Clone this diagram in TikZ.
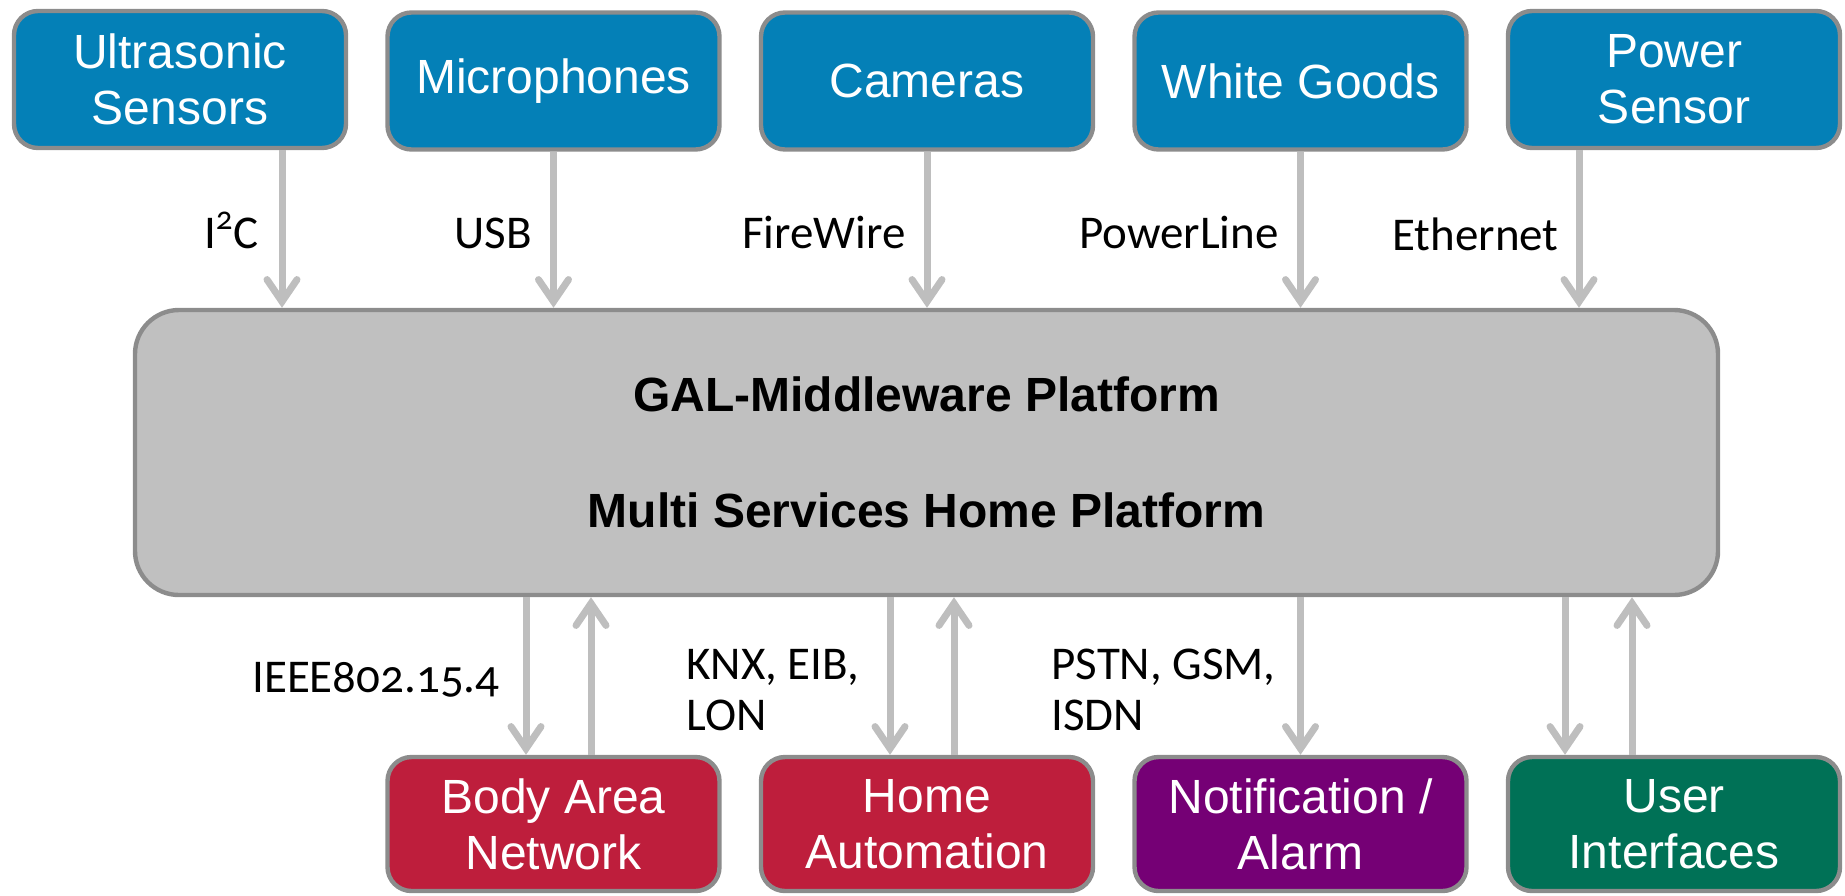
\documentclass[tikz,border=0pt]{standalone}
\usepackage{fontspec}
\setmainfont{Liberation Sans}
\newfontfamily\labelfont[Numbers=OldStyle]{Carlito}
\usetikzlibrary{arrows.meta}

\definecolor{devblue}{RGB}{4,128,183}
\definecolor{devred}{RGB}{190,30,60}
\definecolor{devpurple}{RGB}{117,0,117}
\definecolor{devgreen}{RGB}{0,113,86}
\definecolor{boxgray}{RGB}{140,140,140}
\definecolor{galgray}{RGB}{192,192,192}
\definecolor{linkgray}{RGB}{190,190,190}

\begin{document}
\begin{tikzpicture}[x=0.5pt,y=-0.5pt,
  dev/.style={draw=boxgray,line width=2.2pt,rounded corners=12pt,
    minimum width=166pt,minimum height=68.5pt,inner sep=0pt,
    text=white,align=center,font=\fontsize{24}{28}\selectfont},
  link/.style={draw=linkgray,line width=3.5pt,
    -{Straight Barb[length=11pt,width=15pt,line cap=round]}},
  lbl/.style={font=\labelfont\fontsize{23.5}{25.5}\selectfont,inner sep=0pt}]
\useasboundingbox (0,0) rectangle (1845,895);

% devices on top
\node[dev,fill=devblue] (us)  at (180,79.5)    {Ultrasonic\\Sensors};
\node[dev,fill=devblue] (mic) at (553.5,81)    {Microphones};
\node[dev,fill=devblue] (cam) at (927,81)      {Cameras};
\node[dev,fill=devblue] (wg)  at (1300.5,81)   {White Goods};
\node[dev,fill=devblue] (ps)  at (1674,79.5)   {Power\\Sensor};

% middleware
\node[draw=boxgray,fill=galgray,line width=2.2pt,rounded corners=22pt,
  minimum width=791.5pt,minimum height=142.5pt,align=center,
  font=\bfseries\fontsize{24}{28}\selectfont] (gal) at (926.5,452.5)
  {GAL-Middleware Platform\\[30pt]Multi Services Home Platform};

% services at the bottom
\node[dev,fill=devred,minimum height=67pt]    (ban) at (553.5,824)  {Body Area\\Network};
\node[dev,fill=devred,minimum height=67pt]    (ha)  at (927,824)    {Home\\Automation};
\node[dev,fill=devpurple,minimum height=67pt] (na)  at (1300.5,824) {Notification /\\Alarm};
\node[dev,fill=devgreen,minimum height=67pt]  (ui)  at (1674,824)   {User\\Interfaces};

% inputs
\coordinate (t1) at ([xshift=51pt]us.south);
\coordinate (t2) at (mic.south);
\coordinate (t3) at (cam.south);
\coordinate (t4) at (wg.south);
\coordinate (t5) at ([xshift=-47.5pt]ps.south);
\draw[link] (t1) -- (t1 |- gal.north);
\draw[link] (t2) -- (t2 |- gal.north);
\draw[link] (t3) -- (t3 |- gal.north);
\draw[link] (t4) -- (t4 |- gal.north);
\draw[link] (t5) -- (t5 |- gal.north);

% outputs
\coordinate (b1) at ([xshift=-13.75pt]ban.north);
\coordinate (b2) at ([xshift=18.75pt]ban.north);
\coordinate (b3) at ([xshift=-18.5pt]ha.north);
\coordinate (b4) at ([xshift=13.5pt]ha.north);
\coordinate (b5) at (na.north);
\coordinate (b6) at ([xshift=-54.5pt]ui.north);
\coordinate (b7) at ([xshift=-21pt]ui.north);
\draw[link] (b1 |- gal.south) -- (b1);
\draw[link] (b2) -- (b2 |- gal.south);
\draw[link] (b3 |- gal.south) -- (b3);
\draw[link] (b4) -- (b4 |- gal.south);
\draw[link] (b5 |- gal.south) -- (b5);
\draw[link] (b6 |- gal.south) -- (b6);
\draw[link] (b7) -- (b7 |- gal.south);

% bus labels
\node[lbl,anchor=base east] (i2c) at (259,248)  {I\textsuperscript{2}C};
\node[lbl,anchor=base east] (usb) at (532,248)  {USB};
\node[lbl,anchor=base east] (fw)  at (906,248)  {FireWire};
\node[lbl,anchor=base east] (pl)  at (1279,248) {PowerLine};
\node[lbl,anchor=base east] (eth) at (1559,250) {Ethernet};
\node[lbl,anchor=base east] (ieee) at (500,692) {IEEE802.15.4};
\node[lbl,anchor=base west,align=left] (knx) at (686,730) {KNX, EIB,\\LON};
\node[lbl,anchor=base west,align=left] (pstn) at (1051,730) {PSTN, GSM,\\ISDN};
\end{tikzpicture}
\end{document}
